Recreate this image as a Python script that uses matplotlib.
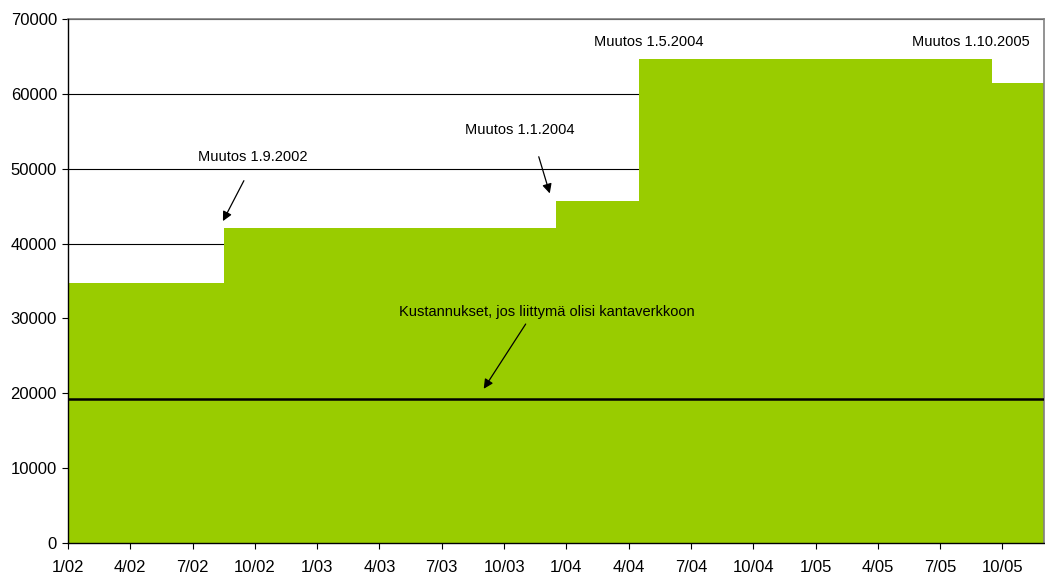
import numpy as np
import matplotlib
matplotlib.use("Agg")
import matplotlib.pyplot as plt

plt.rcParams['font.family'] = ['Liberation Sans', 'DejaVu Sans']

# monthly cost 1/2002 .. 12/2005
cost = [34700]*8 + [42100]*16 + [45700]*4 + [64600]*17 + [61500]*3
months = np.arange(len(cost))
tick_labels = ["1/02", "4/02", "7/02", "10/02", "1/03", "4/03", "7/03", "10/03",
               "1/04", "4/04", "7/04", "10/04", "1/05", "4/05", "7/05", "10/05"]
grid_cost = 19200  # cost if connected to the main grid

fig = plt.figure(figsize=(10.45, 5.77), dpi=100)
ax = fig.add_axes([68/1045, 34/577, 976/1045, 524/577])

ax.bar(months, cost, width=1.0, color="#99CC00", zorder=2)
ax.axhline(grid_cost, color="black", lw=1.8, zorder=3)

ax.set_xlim(0, 47)
ax.set_ylim(0, 70000)
ax.set_yticks(np.arange(0, 70001, 10000))
ax.set_xticks(np.arange(0, 48, 3))
ax.set_xticklabels(tick_labels)
ax.tick_params(labelsize=12, direction="out", length=4, width=0.8)
ax.tick_params(axis="y", pad=4)
ax.tick_params(axis="x", pad=8)
ax.yaxis.grid(True, color="black", lw=0.8, zorder=0)
ax.set_axisbelow(True)

for s in ["left", "bottom"]:
    ax.spines[s].set_color("black")
    ax.spines[s].set_linewidth(1.0)
    ax.spines[s].set_zorder(4)
for s in ["top", "right"]:
    ax.spines[s].set_color("#808080")
    ax.spines[s].set_linewidth(1.2)

arrow = dict(arrowstyle="-|>", color="black", lw=0.9, mutation_scale=14,
             shrinkA=0, shrinkB=0)
ax.annotate("", xy=(7.46, 43000), xytext=(8.47, 48400), arrowprops=arrow, zorder=5)
ax.text(8.9, 51600, "Muutos 1.9.2002", ha="center", va="center", fontsize=10.5)
ax.annotate("", xy=(23.2, 46700), xytext=(22.67, 51600), arrowprops=arrow, zorder=5)
ax.text(21.75, 55200, "Muutos 1.1.2004", ha="center", va="center", fontsize=10.5)
ax.text(27.96, 66900, "Muutos 1.5.2004", ha="center", va="center", fontsize=10.5)
ax.text(43.5, 66900, "Muutos 1.10.2005", ha="center", va="center", fontsize=10.5)
ax.annotate("", xy=(20.02, 20600), xytext=(22.04, 29250), arrowprops=arrow, zorder=5)
ax.text(23.05, 30900, "Kustannukset, jos liittymä olisi kantaverkkoon",
        ha="center", va="center", fontsize=10.5, zorder=5)

fig.savefig("out.png", dpi=100)
